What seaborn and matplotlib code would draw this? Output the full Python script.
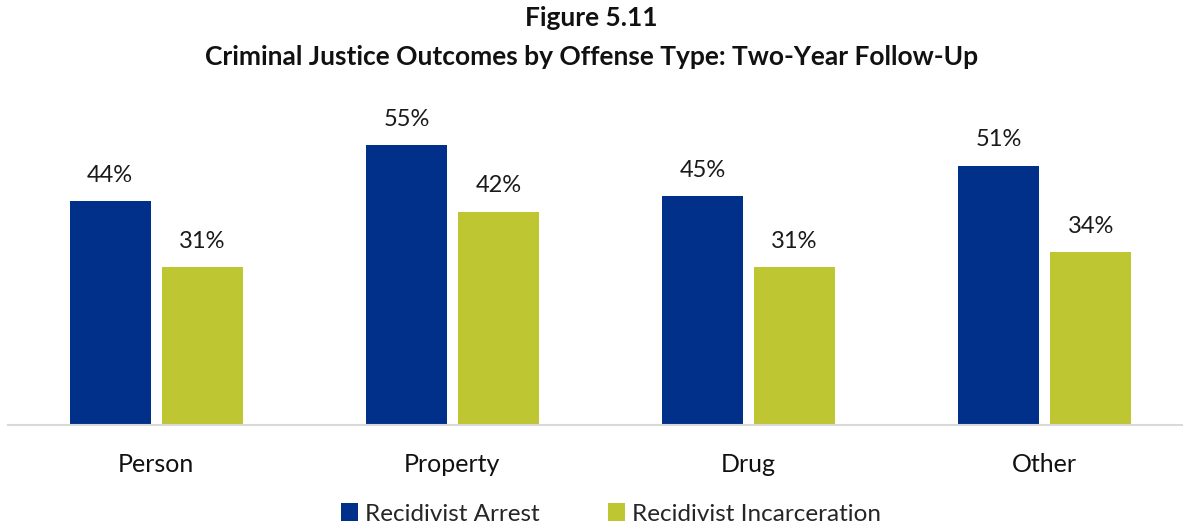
import matplotlib
matplotlib.use("Agg")
import matplotlib.pyplot as plt
import seaborn as sns
import pandas as pd

categories = ["Person", "Property", "Drug", "Other"]
arrest = [44, 55, 45, 51]
incarceration = [31, 42, 31, 34]
series_names = ["Recidivist Arrest", "Recidivist Incarceration"]
colors = ["#00308A", "#BEC632"]

df = pd.DataFrame({
    "category": categories * 2,
    "value": arrest + incarceration,
    "series": [series_names[0]] * 4 + [series_names[1]] * 4,
})

sns.set_theme(style="white")
plt.rcParams["font.family"] = ["Lato", "DejaVu Sans"]

fig = plt.figure(figsize=(11.83, 5.27), dpi=100)
ax = fig.add_axes([8 / 1183, 102 / 527, 1185 / 1183, 305 / 527])

sns.barplot(data=df, x="category", y="value", hue="series", palette=colors,
            width=0.621, gap=0.12, ax=ax, legend=True, saturation=1,
            linewidth=0)

for cont in ax.containers:
    ax.bar_label(cont, labels=[f"{v:.0f}%" for v in cont.datavalues],
                 padding=11, fontsize=17, color="#1a1a1a")

ax.set_ylim(0, 60)
ax.set_xlim(-0.5, 3.5)
ax.set_xlabel("")
ax.set_ylabel("")
ax.set_yticks([])
for s in ["top", "right", "left"]:
    ax.spines[s].set_visible(False)
ax.spines["bottom"].set_color("#D9D9D9")
ax.spines["bottom"].set_linewidth(1.5)
ax.tick_params(axis="x", length=0, labelsize=18, pad=20, colors="#111111")

handles, labels = ax.get_legend_handles_labels()
ax.legend(handles, labels, loc="center", ncol=2, frameon=False, fontsize=17.5,
          handlelength=0.7, handleheight=0.7, handletextpad=0.3, columnspacing=2.8,
          bbox_to_anchor=(611 / 1183, 13 / 527), bbox_transform=fig.transFigure)

fig.text(0.5, 1 - 18 / 527, "Figure 5.11", ha="center", va="center",
         fontsize=19, fontweight="bold", color="#111111")
fig.text(0.5, 1 - 57 / 527, "Criminal Justice Outcomes by Offense Type: Two-Year Follow-Up",
         ha="center", va="center", fontsize=19, fontweight="bold", color="#111111")

fig.savefig("out.png", dpi=100)
